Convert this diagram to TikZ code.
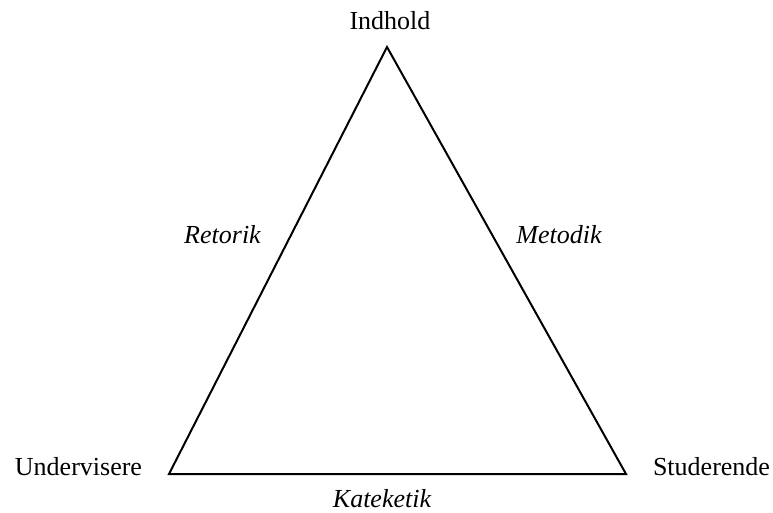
\documentclass[tikz,border=0pt]{standalone}
\usepackage{fontspec}
\setmainfont{Liberation Serif}
\usepackage{tikz}

\tikzset{
  corner/.style={anchor=base,inner sep=0pt,font=\fontsize{26}{30}\selectfont},
  side/.style={anchor=base,inner sep=0pt,font=\fontsize{26}{30}\selectfont\itshape},
}

\begin{document}
\begin{tikzpicture}[x=1pt,y=1pt,yscale=-1]
\useasboundingbox (0,0) rectangle (773,513);

%Shape: Triangle
\coordinate (top) at (387,47);
\coordinate (left) at (169,474);
\coordinate (right) at (626,474);
\draw [line width=2, line join=miter] (top) -- (left) -- (right) -- cycle;

% Text Node
\node (indhold) [corner] at (390,30) {Indhold};
% Text Node
\node (undervisere) [corner] at (78.5,475) {Undervisere};
% Text Node
\node (studerende) [corner] at (711.5,475) {Studerende};
% Text Node
\node (retorik) [side] at (222.5,243) {Retorik};
% Text Node
\node (metodik) [side] at (559,243) {Metodik};
% Text Node
\node (kateketik) [side] at (382,507) {Kateketik};

\end{tikzpicture}
\end{document}
